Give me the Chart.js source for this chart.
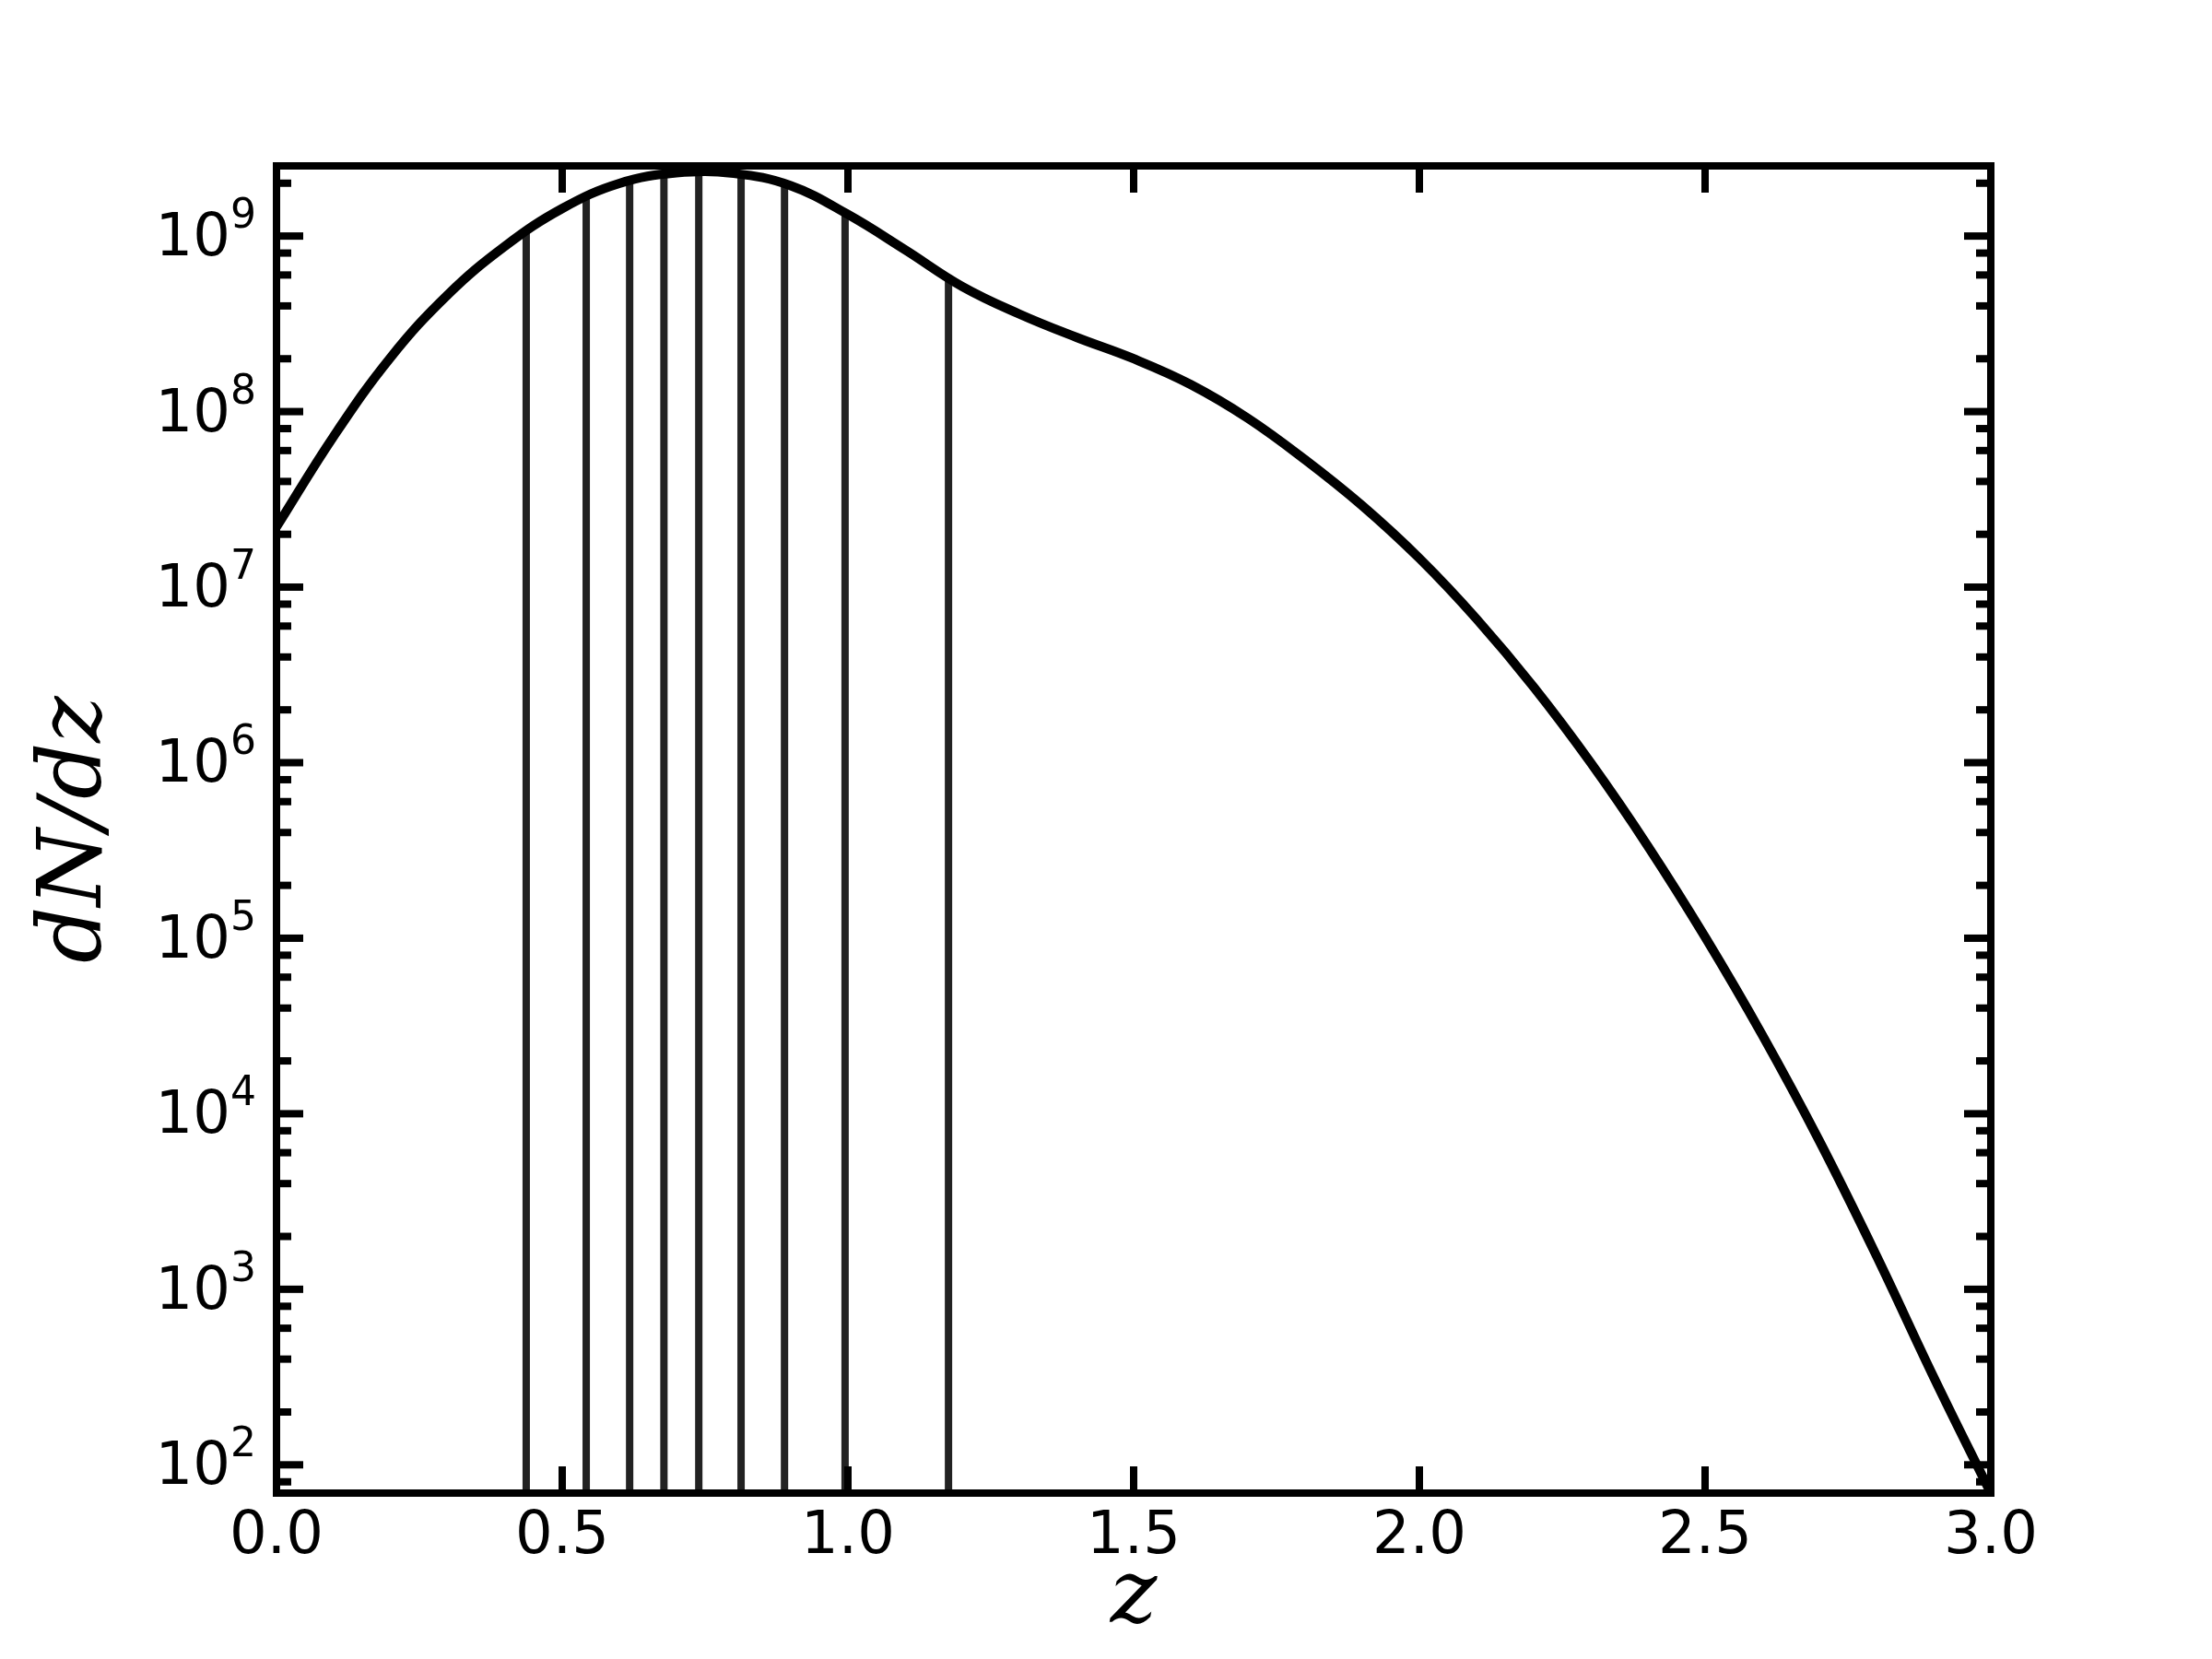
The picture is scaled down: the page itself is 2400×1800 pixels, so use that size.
<!DOCTYPE html>
<html>
<head>
<meta charset="utf-8">
<script src="https://cdn.jsdelivr.net/npm/chart.js@4.4.1/dist/chart.umd.min.js"></script>
<style>
  html, body { margin: 0; padding: 0; background: #fff; }
  #wrap { width: 2400px; height: 1800px; }
</style>
</head>
<body>
<div id="wrap"><canvas id="chart" width="2400" height="1800"></canvas></div>
<script>
// dN/dz every 0.1 in z
const zValues = [0.0, 0.1, 0.2, 0.3, 0.4, 0.5, 0.6, 0.7, 0.8, 0.9, 1.0, 1.1, 1.2, 1.3, 1.4, 1.5,
  1.6, 1.7, 1.8, 1.9, 2.0, 2.1, 2.2, 2.3, 2.4, 2.5, 2.6, 2.7, 2.8, 2.9, 3.0];
const dndzValues = [2.203e7, 7.228e7, 2.042e8, 4.645e8, 8.770e8, 1.435e9, 1.995e9, 2.291e9, 2.275e9,
  1.936e9, 1.327e9, 8.356e8, 5.164e8, 3.597e8, 2.649e8, 2.000e8, 1.426e8, 9.162e7, 5.321e7, 2.911e7,
  1.459e7, 6.592e6, 2.698e6, 9.977e5, 3.342e5, 1.016e5, 2.812e4, 7.0e3, 1.549e3, 316, 69];

// vertical bin edges and where they meet the curve
const binEdges = [0.437, 0.542, 0.618, 0.678, 0.739, 0.813, 0.889, 0.995, 1.176];
const binTops = [1.05e9, 1.66e9, 2.04e9, 2.21e9, 2.26e9, 2.21e9, 1.93e9, 1.33e9, 5.56e8];

// axes
const xRange = [0, 3];
const yRange = [69, 2.51e9];
const xTicks = [0, 0.5, 1.0, 1.5, 2.0, 2.5, 3.0];
const yMajorTicks = [1e2, 1e3, 1e4, 1e5, 1e6, 1e7, 1e8, 1e9];
const yMinorSubs = [2, 4, 6, 8];

// frame, inward ticks on all four sides, and 10^n labels
const framePlugin = {
  id: 'frame',
  afterDatasetsDraw(chart) {
    const {ctx, chartArea: a, scales: {x, y}} = chart;
    ctx.save();
    ctx.strokeStyle = '#000';
    ctx.lineWidth = 8;
    ctx.lineCap = 'butt';
    const seg = (x1, y1, x2, y2) => {
      ctx.beginPath(); ctx.moveTo(x1, y1); ctx.lineTo(x2, y2); ctx.stroke();
    };
    xTicks.forEach(v => {
      const px = x.getPixelForValue(v);
      seg(px, a.bottom, px, a.bottom - 29);
      seg(px, a.top, px, a.top + 29);
    });
    yMajorTicks.forEach(v => {
      const py = y.getPixelForValue(v);
      seg(a.left, py, a.left + 29, py);
      seg(a.right, py, a.right - 29, py);
    });
    for (let d = 1e1; d <= 1e9; d *= 10) {
      yMinorSubs.forEach(s => {
        const v = s * d;
        if (v < yRange[0] || v > yRange[1]) return;
        const py = y.getPixelForValue(v);
        seg(a.left, py, a.left + 16, py);
        seg(a.right, py, a.right - 16, py);
      });
    }
    ctx.lineJoin = 'miter';
    ctx.strokeRect(a.left, a.top, a.right - a.left, a.bottom - a.top);
    ctx.restore();
  },
  afterDraw(chart) {
    const {ctx, chartArea: a, scales: {y}} = chart;
    ctx.save();
    ctx.fillStyle = '#000';
    ctx.textAlign = 'left';
    ctx.textBaseline = 'alphabetic';
    yMajorTicks.forEach(v => {
      const py = y.getPixelForValue(v);
      const exp = String(Math.round(Math.log10(v)));
      ctx.font = '64px "DejaVu Sans"';
      const wBase = ctx.measureText('10').width;
      ctx.font = '44px "DejaVu Sans"';
      const wExp = ctx.measureText(exp).width;
      const x0 = a.left - 22 - wBase - wExp;
      ctx.font = '64px "DejaVu Sans"';
      ctx.fillText('10', x0, py + 21);
      ctx.font = '44px "DejaVu Sans"';
      ctx.fillText(exp, x0 + wBase, py - 9);
    });
    ctx.restore();
  }
};

const curve = {
  data: zValues.map((z, i) => ({x: z, y: dndzValues[i]})),
  borderColor: '#000000',
  borderWidth: 10,
  pointRadius: 0,
  tension: 0.4,
  fill: false
};

const edgeSets = binEdges.map((z, i) => ({
  data: [{x: z, y: yRange[0]}, {x: z, y: binTops[i]}],
  borderColor: '#222222',
  borderWidth: 8,
  pointRadius: 0,
  tension: 0,
  fill: false
}));

new Chart(document.getElementById('chart'), {
  type: 'line',
  data: { datasets: [curve, ...edgeSets] },
  options: {
    responsive: false,
    animation: false,
    devicePixelRatio: 1,
    layout: { padding: { top: 180, right: 240, left: 0, bottom: 0 } },
    plugins: { legend: { display: false }, tooltip: { enabled: false } },
    scales: {
      x: {
        type: 'linear',
        min: xRange[0],
        max: xRange[1],
        afterBuildTicks: s => { s.ticks = xTicks.map(v => ({value: v})); },
        afterFit: s => { s.height = 180; },
        grid: { display: false, drawTicks: false },
        border: { display: false },
        ticks: {
          padding: 10,
          color: '#000',
          maxRotation: 0,
          font: { family: 'DejaVu Sans', size: 64 },
          callback: v => Number(v).toFixed(1)
        },
        title: {
          display: true,
          text: 'z',
          color: '#000',
          font: { family: 'DejaVu Serif', style: 'italic', size: 96, lineHeight: 1 },
          padding: { top: 0, bottom: 17 }
        }
      },
      y: {
        type: 'logarithmic',
        min: yRange[0],
        max: yRange[1],
        afterFit: s => { s.width = 300; },
        grid: { display: false, drawTicks: false },
        border: { display: false },
        ticks: { display: false },
        title: {
          display: true,
          text: 'dN/dz',
          color: '#000',
          font: { family: 'DejaVu Serif', style: 'italic', size: 96, lineHeight: 1 },
          padding: { top: 36, bottom: 0 }
        }
      }
    }
  },
  plugins: [framePlugin]
});
</script>
</body>
</html>
